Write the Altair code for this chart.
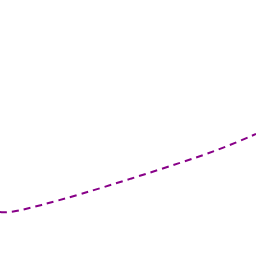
import altair as alt
import pandas as pd

xs = [0, 10, 40, 80, 130, 180, 220, 256]
ys = [44, 43, 50.5, 61.5, 77, 93, 106.5, 122]

df = pd.DataFrame({"x": xs, "y": ys})

chart = alt.Chart(df).mark_line(
    color="#880088", strokeDash=[7, 5], strokeWidth=2, interpolate="basis"
).encode(
    x=alt.X("x:Q", scale=alt.Scale(domain=[0, 256], nice=False, zero=False), axis=None),
    y=alt.Y("y:Q", scale=alt.Scale(domain=[0, 256], nice=False, zero=False), axis=None),
).properties(
    width=256, height=256, padding=0, autosize=alt.AutoSizeParams(type="none")
).configure_view(stroke=None)

chart.save("out.html", embed_options={"renderer": "svg", "actions": False})
